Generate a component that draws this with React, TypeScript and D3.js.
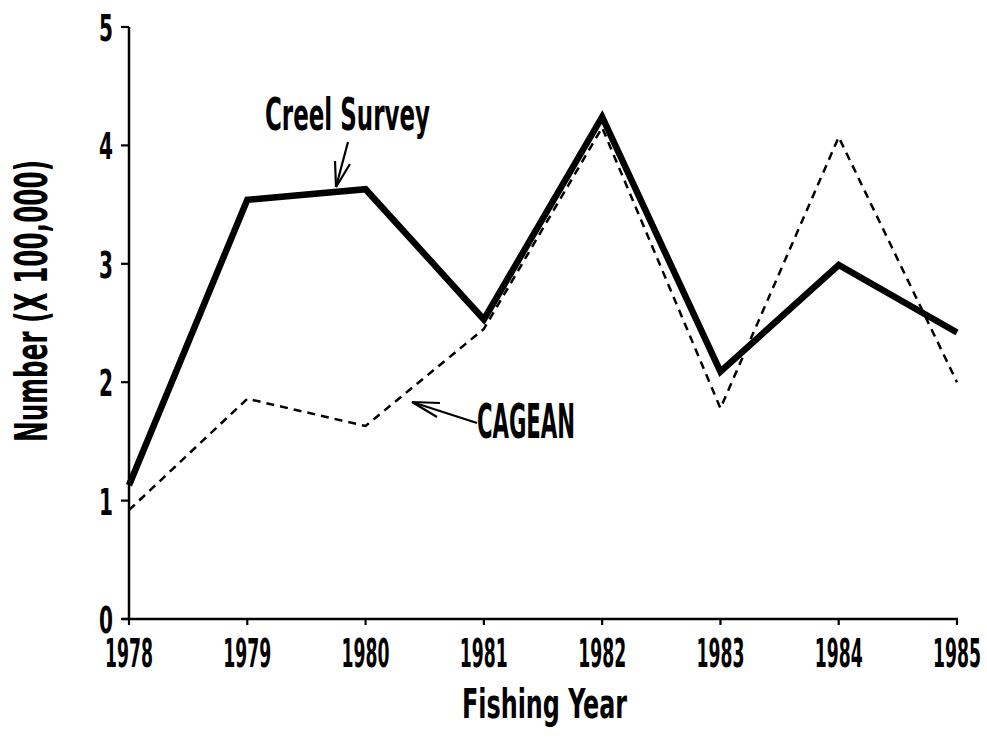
import React from "react";
import * as d3 from "d3";

const years = [1978, 1979, 1980, 1981, 1982, 1983, 1984, 1985];
const creelSurvey = [1.13, 3.54, 3.63, 2.53, 4.24, 2.09, 2.99, 2.42];
const cagean = [0.92, 1.86, 1.63, 2.45, 4.15, 1.78, 4.07, 2.0];
const yTicks = [0, 1, 2, 3, 4, 5];
const xLabel = "Fishing Year";
const yLabel = "Number (X 100,000)";
const creelLabel = "Creel Survey";
const cageanLabel = "CAGEAN";

const W = 987;
const H = 739;
const FONT = "'DejaVu Sans Condensed', 'DejaVu Sans', sans-serif";

export default function App() {
  const x = d3.scaleLinear().domain([1978, 1985]).range([129, 957]);
  const y = d3.scaleLinear().domain([0, 5]).range([619, 27]);
  const line = d3
    .line<number>()
    .x((_, i) => x(years[i]))
    .y((d) => y(d));

  const textStyle = {
    fontFamily: FONT,
    fontWeight: "bold" as const,
    fill: "#000",
  };

  return (
    <svg
      width={W}
      height={H}
      style={{ position: "absolute", left: 0, top: 0, background: "#fff" }}
    >
      <rect x={0} y={0} width={W} height={H} fill="#fff" />
      {/* axes */}
      <line x1={x(1978)} x2={x(1978)} y1={y(5)} y2={y(0) + 1} stroke="#000" strokeWidth={2.5} />
      <line x1={x(1978) - 7} x2={x(1985) + 1} y1={y(0)} y2={y(0)} stroke="#000" strokeWidth={2.5} />
      {yTicks.map((t) => (
        <g key={"yt" + t}>
          <line x1={x(1978) - 8} x2={x(1978)} y1={y(t)} y2={y(t)} stroke="#000" strokeWidth={2.2} />
          <text
            x={113}
            y={y(t) + 14}
            textAnchor="end"
            fontSize={38}
            textLength={14}
            lengthAdjust="spacingAndGlyphs"
            style={textStyle}
          >
            {t}
          </text>
        </g>
      ))}
      {years.map((yr) => (
        <g key={"xt" + yr}>
          <line x1={x(yr)} x2={x(yr)} y1={y(0)} y2={y(0) + 6} stroke="#000" strokeWidth={2.2} />
          <text
            x={x(yr) - 24}
            y={667}
            fontSize={39}
            textLength={48}
            lengthAdjust="spacingAndGlyphs"
            style={textStyle}
          >
            {yr}
          </text>
        </g>
      ))}
      {/* axis titles */}
      <text
        x={462}
        y={718}
        fontSize={41}
        textLength={165}
        lengthAdjust="spacingAndGlyphs"
        style={textStyle}
      >
        {xLabel}
      </text>
      <text
        transform={`translate(47, 442) rotate(-90)`}
        x={0}
        y={0}
        fontSize={44}
        textLength={282}
        lengthAdjust="spacingAndGlyphs"
        style={textStyle}
      >
        {yLabel}
      </text>
      {/* series */}
      <path
        d={line(cagean) || ""}
        fill="none"
        stroke="#000"
        strokeWidth={2.5}
        strokeDasharray="8 6"
      />
      <path
        d={line(creelSurvey) || ""}
        fill="none"
        stroke="#000"
        strokeWidth={6.5}
        strokeLinejoin="miter"
      />
      {/* annotations */}
      <text
        x={265}
        y={130}
        fontSize={45}
        textLength={165}
        lengthAdjust="spacingAndGlyphs"
        style={textStyle}
      >
        {creelLabel}
      </text>
      <g stroke="#000" strokeWidth={2.2} fill="none">
        <line x1={348} y1={142} x2={336} y2={187} />
        <line x1={336} y1={187} x2={335} y2={161} />
        <line x1={336} y1={187} x2={350} y2={164} />
      </g>
      <text
        x={477}
        y={438}
        fontSize={48}
        textLength={98}
        lengthAdjust="spacingAndGlyphs"
        style={textStyle}
      >
        {cageanLabel}
      </text>
      <g stroke="#000" strokeWidth={2.2} fill="none">
        <line x1={477} y1={423} x2={412} y2={402} />
        <line x1={412} y1={402} x2={440} y2={403} />
        <line x1={412} y1={402} x2={437} y2={417} />
      </g>
    </svg>
  );
}
